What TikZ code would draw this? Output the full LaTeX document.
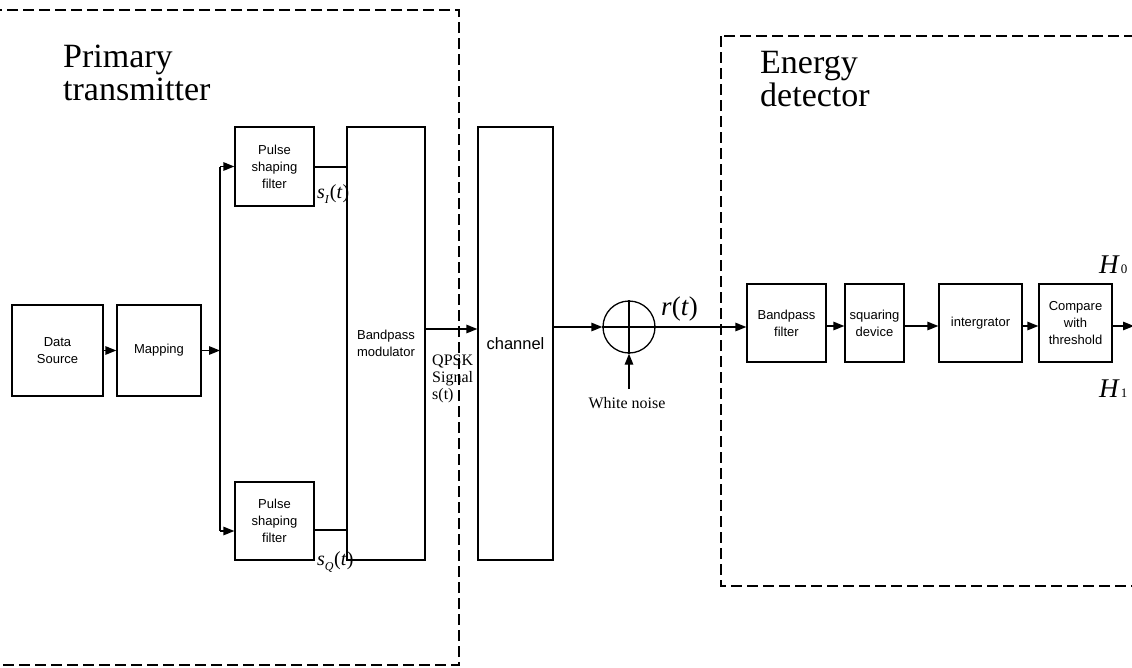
\documentclass[tikz,border=0pt]{standalone}
\usepackage{fontspec}
\setmainfont{Liberation Serif}
\newfontfamily\arial{Liberation Sans}
\usetikzlibrary{arrows.meta,calc}
\begin{document}
\begin{tikzpicture}[x=1pt,y=-1pt,
 blk/.style={draw,line width=1.3pt,inner sep=0pt,align=center,font=\arial\fontsize{13}{17}\selectfont},
 conn/.style={line width=1.3pt},
 arr/.style={line width=1.3pt,-{Triangle[length=11pt,width=8.5pt]}},
 grp/.style={draw,line width=2.4pt,dash pattern=on 11pt off 5pt},
 big/.style={font=\fontsize{34}{33}\selectfont,inner sep=0pt,anchor=base west},
 lbl/.style={font=\fontsize{16}{17}\selectfont,inner sep=0pt,anchor=base west},
 mth/.style={font=\fontsize{20}{20}\selectfont,inner sep=0pt,anchor=base west}
]
\useasboundingbox (0,0) rectangle (1132,667);
\clip (0,0) rectangle (1132,667);

% dashed groups
\draw[grp] (-30,10) rectangle (459,665);
\draw[grp] (721,36) rectangle (1170,586);

% group titles
\node[big] (pt1) at (63,67) {Primary};
\node[big] (pt2) at (63,100) {transmitter};
\node[big] (ed1) at (760,73) {Energy};
\node[big] (ed2) at (760,106) {detector};

% transmitter blocks
\node[blk,minimum width=91pt,minimum height=91pt] (ds) at (57.5,350.5) {Data\\Source};
\node[blk,minimum width=84pt,minimum height=91pt] (map) at (159,350.5) {Mapping};
\node[blk,minimum width=79pt,minimum height=79pt] (pf1) at (274.5,166.5) {Pulse\\shaping\\filter};
\node[blk,minimum width=79pt,minimum height=78pt] (pf2) at (274.5,521) {Pulse\\shaping\\filter};
\node[blk,minimum width=78pt,minimum height=433pt] (mod) at (386,343.5) {Bandpass\\modulator};
\node[blk,minimum width=75pt,minimum height=433pt,font=\arial\fontsize{16.5}{20}\selectfont] (ch) at (515.5,343.5) {channel};

% summing junction
\node[draw,circle,line width=1.3pt,minimum size=52pt,inner sep=0pt] (sum) at (629,327) {};
\draw[conn] (sum.north) -- (sum.south);
\draw[conn] (sum.west) -- (sum.east);

% detector blocks
\node[blk,minimum width=79pt,minimum height=78pt] (bpf) at (786.5,323) {Bandpass\\filter};
\node[blk,minimum width=59pt,minimum height=78pt] (sq) at (874.5,323) {squaring\\device};
\node[blk,minimum width=83pt,minimum height=78pt] (int) at (980.5,323) {intergrator};
\node[blk,minimum width=73pt,minimum height=78pt] (cmp) at (1075.5,323) {Compare\\with\\threshold};

% connectors
\coordinate (split) at (220,350.5);
\coordinate (vtop) at (220,166.5);
\coordinate (vbot) at (220,531);
\draw[arr] (ds) -- (map);
\draw[arr] (map.east) -- (split);
\draw[conn] (vtop) -- (vbot);
\draw[arr] (vtop) -- (pf1.west);
\draw[arr] (vbot) -- (vbot -| pf2.west);
\draw[conn] ([yshift=-0.5pt]pf1.east) -- ([yshift=-0.5pt]pf1.east -| mod.west);
\draw[conn] ([yshift=-9pt]pf2.east) -- ([yshift=-9pt]pf2.east -| mod.west);
\draw[arr] ([yshift=14.5pt]mod.east) -- ([yshift=14.5pt]mod.east -| ch.west);
\draw[arr] (ch.east |- sum.west) -- (sum.west);
\draw[arr] (sum.east) -- (sum.east -| bpf.west);
\draw[arr] ([yshift=-3pt]bpf.east) -- ([yshift=-3pt]sq.west);
\draw[arr] ([yshift=-3pt]sq.east) -- ([yshift=-3pt]int.west);
\draw[arr] ([yshift=-3pt]int.east) -- ([yshift=-3pt]cmp.west);
\coordinate (out) at (1134,326);
\draw[arr] ([yshift=-3pt]cmp.east) -- (out);
\coordinate (wn) at (629,389);
\draw[arr] (wn) -- (sum.south);

% labels
\node[mth] (si) at (317,198) {\textit{s}\raisebox{-5pt}{\fontsize{12}{12}\selectfont\textit{I}}\kern0.5pt(\textit{t})};
\node[mth] (sqq) at (317,565) {\textit{s}\raisebox{-5pt}{\fontsize{12}{12}\selectfont\textit{Q}}\kern0.5pt(\textit{t})};
\node[lbl] (q1) at (432,365) {QPSK};
\node[lbl] (q2) at (432,382) {Signal};
\node[lbl] (q3) at (432,399) {s(t)};
\node[font=\fontsize{16}{17}\selectfont,inner sep=0pt,anchor=base] (wnl) at (627,408) {White noise};
\node[font=\fontsize{27}{27}\selectfont,inner sep=0pt,anchor=base west] (rt) at (661,315) {\textit{r}(\textit{t})};
\node[font=\fontsize{27}{27}\selectfont,inner sep=0pt,anchor=base west] (h0) at (1099,273) {\textit{H}\kern1pt{\fontsize{13}{13}\selectfont 0}};
\node[font=\fontsize{27}{27}\selectfont,inner sep=0pt,anchor=base west] (h1) at (1099,397) {\textit{H}\kern1pt{\fontsize{13}{13}\selectfont 1}};
\end{tikzpicture}
\end{document}
